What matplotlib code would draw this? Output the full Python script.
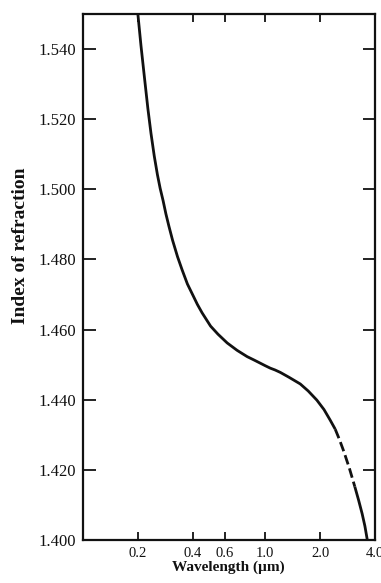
import matplotlib
matplotlib.use("Agg")
import matplotlib.pyplot as plt
from matplotlib.ticker import FixedLocator, FixedFormatter, NullLocator

# Data
wavelength_um = [0.2000, 0.2080, 0.2170, 0.2270, 0.2360, 0.2460, 0.2560, 0.2650,
                 0.2750, 0.2850, 0.2960, 0.3100, 0.3300, 0.3500, 0.3740, 0.4000,
                 0.4240, 0.4500, 0.5010, 0.5500, 0.6180, 0.7000, 0.7950, 0.8700,
                 0.9410, 1.0000, 1.0660, 1.1300, 1.2090, 1.3500, 1.5560, 1.7200,
                 1.9180, 2.1000, 2.2700, 2.4200, 2.5500, 2.7000, 2.9000, 3.1000,
                 3.2500, 3.4000, 3.5200, 3.6300]
refr_index = [1.5500, 1.5410, 1.5322, 1.5230, 1.5160, 1.5095, 1.5042, 1.5003,
              1.4968, 1.4930, 1.4895, 1.4855, 1.4808, 1.4770, 1.4730, 1.4699,
              1.4672, 1.4648, 1.4610, 1.4587, 1.4562, 1.4541, 1.4523, 1.4513,
              1.4504, 1.4497, 1.4490, 1.4485, 1.4478, 1.4464, 1.4445, 1.4425,
              1.4399, 1.4372, 1.4342, 1.4316, 1.4287, 1.4252, 1.4203, 1.4152,
              1.4114, 1.4075, 1.4040, 1.4000]
dash_start_um = 2.42
dash_end_um = 3.10

x_ticks = [0.2, 0.4, 0.6, 1.0, 2.0, 4.0]
x_tick_labels = ["0.2", "0.4", "0.6", "1.0", "2.0", "4.0"]
y_ticks = [1.400, 1.420, 1.440, 1.460, 1.480, 1.500, 1.520, 1.540]
y_tick_labels = ["1.400", "1.420", "1.440", "1.460", "1.480", "1.500", "1.520", "1.540"]

plt.rcParams['font.family'] = ['Liberation Serif', 'DejaVu Serif']

W, H = 381, 583
fig = plt.figure(figsize=(W / 100, H / 100), dpi=100)
ax = fig.add_axes([83 / W, 1 - 540 / H, (375 - 83) / W, (540 - 14) / H])

ink = "#111111"
lw = 2.0

solid1 = [(w, n) for w, n in zip(wavelength_um, refr_index) if w <= dash_start_um]
dashed = [(w, n) for w, n in zip(wavelength_um, refr_index) if dash_start_um <= w <= dash_end_um]
solid2 = [(w, n) for w, n in zip(wavelength_um, refr_index) if w >= dash_end_um]

for seg, style in ((solid1, '-'), (dashed, '--'), (solid2, '-')):
    xs = [p[0] for p in seg]
    ys = [p[1] for p in seg]
    line, = ax.plot(xs, ys, color=ink, lw=lw, solid_capstyle='butt',
                    solid_joinstyle='round', clip_on=True)
    if style == '--':
        line.set_dashes((7.0 / lw, 3.0 / lw))

ax.set_xscale('log')
ax.set_xlim(0.1, 4.0)
ax.set_ylim(1.400, 1.550)

ax.xaxis.set_major_locator(FixedLocator(x_ticks))
ax.xaxis.set_major_formatter(FixedFormatter(x_tick_labels))
ax.xaxis.set_minor_locator(NullLocator())
ax.yaxis.set_major_locator(FixedLocator(y_ticks))
ax.yaxis.set_major_formatter(FixedFormatter(y_tick_labels))
ax.yaxis.set_minor_locator(NullLocator())

for sp in ax.spines.values():
    sp.set_linewidth(1.6)
    sp.set_color(ink)

ax.tick_params(axis='x', which='major', direction='in', length=6, width=1.3,
               top=True, bottom=True, labelsize=10.5, pad=5, colors=ink)
ax.tick_params(axis='y', which='major', direction='in', length=9, width=1.3,
               left=True, right=True, labelsize=12, pad=5, colors=ink)

fig.text(21 / W, 1 - 246 / H, "Index of refraction", rotation=90, ha='center',
         va='center', fontsize=14, fontweight='bold', color=ink)
fig.text(228 / W, 1 - 567 / H, "Wavelength (\u00b5m)", ha='center', va='center',
         fontsize=11, fontweight='bold', color=ink)

fig.savefig("out.png", dpi=100)
